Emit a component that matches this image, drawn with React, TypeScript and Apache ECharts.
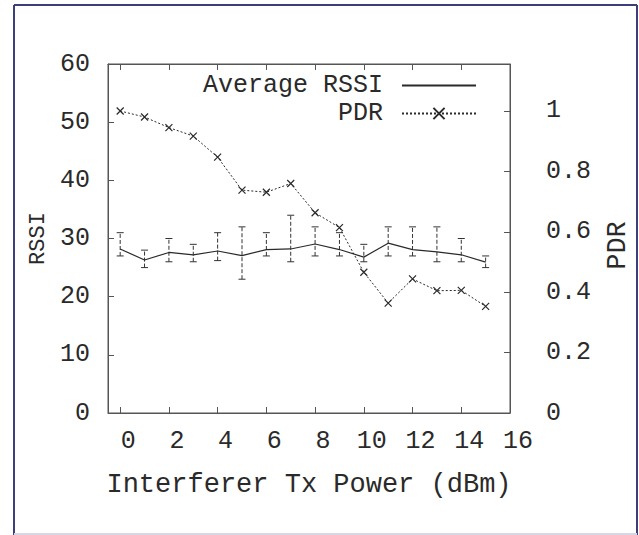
import React, { useEffect, useRef } from "react";
import * as echarts from "echarts";

const xValues = [0, 1, 2, 3, 4, 5, 6, 7, 8, 9, 10, 11, 12, 13, 14, 15];
const rssiMean = [28.2, 26.3, 27.6, 27.2, 27.85, 27.05, 28.1, 28.2, 29.05, 28.1, 26.8, 29.2, 28.1, 27.7, 27.2, 25.95];
const rssiLow = [27, 25, 26, 26, 26.2, 23, 27, 26, 27, 27, 26, 27, 27, 26, 26, 25];
const rssiHigh = [31, 28, 30, 29, 31, 32, 31, 34, 32, 31, 29, 32, 32, 32, 30, 27];
const pdrValues = [1.0, 0.98, 0.945, 0.917, 0.847, 0.738, 0.731, 0.76, 0.663, 0.614, 0.466, 0.364, 0.444, 0.405, 0.406, 0.353];
const xTicks = [0, 2, 4, 6, 8, 10, 12, 14, 16];
const pdrLabels: Record<string, string> = { "0": "0", "0.2": "0.2", "0.4": "0.4", "0.6": "0.6", "0.8": "0.8", "1": "1" };

const FONT = "'Liberation Mono', 'Courier New', monospace";
const INK = "#2a2a2a";
const AX = "#555555";

export default function App() {
  const ref = useRef<HTMLDivElement>(null);
  useEffect(() => {
    document.body.style.margin = "0";
    document.body.style.overflow = "hidden";
    const chart = echarts.init(ref.current!, undefined, { renderer: "svg" });
    const errData = xValues.map((x, i) => [x, rssiLow[i], rssiHigh[i]]);
    chart.setOption({
      animation: false,
      backgroundColor: "#ffffff",
      grid: { left: 108, top: 64, right: 128, bottom: 122, show: true, borderColor: AX, borderWidth: 1, backgroundColor: "transparent" },
      xAxis: [
        {
          type: "value", min: -0.5, max: 16, position: "bottom",
          name: "Interferer Tx Power (dBm)", nameLocation: "middle", nameGap: 58,
          nameTextStyle: { fontFamily: FONT, fontSize: 27, color: INK },
          axisLine: { show: true, onZero: false, lineStyle: { color: AX } },
          axisTick: { show: true, inside: true, length: 6, lineStyle: { color: AX }, customValues: xTicks },
          axisLabel: { show: true, customValues: xTicks, margin: 16, fontFamily: FONT, fontSize: 25, color: INK, padding: [0, 0, 0, 16] },
          splitLine: { show: false },
        },
        {
          type: "value", min: -0.5, max: 16, position: "top",
          axisLine: { show: true, onZero: false, lineStyle: { color: AX } },
          axisTick: { show: true, inside: true, length: 6, lineStyle: { color: AX }, customValues: xTicks },
          axisLabel: { show: false },
          splitLine: { show: false },
        },
      ],
      yAxis: [
        {
          type: "value", min: 0, max: 60, interval: 10, position: "left",
          name: "RSSI", nameLocation: "middle", nameGap: 59, nameRotate: 90,
          nameTextStyle: { fontFamily: FONT, fontSize: 22, color: INK },
          axisLine: { show: true, onZero: false, lineStyle: { color: AX } },
          axisTick: { show: true, inside: true, length: 6, lineStyle: { color: AX } },
          axisLabel: { margin: 18, fontFamily: FONT, fontSize: 25, color: INK },
          splitLine: { show: false },
        },
        {
          type: "value", min: 0, max: 1.1556, interval: 0.2, position: "right",
          name: "PDR", nameLocation: "middle", nameGap: 94, nameRotate: 90,
          nameTextStyle: { fontFamily: FONT, fontSize: 27, color: INK, padding: [0, 14, 0, 0] },
          axisLine: { show: true, onZero: false, lineStyle: { color: AX } },
          axisTick: { show: true, inside: true, length: 6, lineStyle: { color: AX } },
          axisLabel: {
            margin: 36, fontFamily: FONT, fontSize: 25, color: INK, showMaxLabel: false,
            formatter: (v: number) => pdrLabels[String(Math.round(v * 10) / 10)] ?? "",
          },
          splitLine: { show: false },
        },
      ],
      legend: [
        {
          data: ["Average RSSI"], right: 162, top: 73, align: "right", orient: "horizontal", padding: 0,
          itemWidth: 74, itemHeight: 14, selectedMode: false,
          itemStyle: { color: "transparent", borderWidth: 0 },
          textStyle: { fontFamily: FONT, fontSize: 25, lineHeight: 25, color: INK, padding: [0, 14, 0, 0] },
        },
        {
          data: ["PDR"], right: 162, top: 101, align: "right", orient: "horizontal", padding: 0,
          itemWidth: 74, itemHeight: 14, selectedMode: false,
          textStyle: { fontFamily: FONT, fontSize: 25, lineHeight: 25, color: INK, padding: [0, 14, 0, 0] },
        },
      ],
      graphic: [
        { type: "line", shape: { x1: 14, y1: 5, x2: 14, y2: 535 }, style: { stroke: "#3c3f7c", lineWidth: 2 }, silent: true },
        { type: "line", shape: { x1: 14, y1: 5, x2: 637, y2: 5 }, style: { stroke: "#3c3f7c", lineWidth: 2 }, silent: true },
        { type: "line", shape: { x1: 637, y1: 5, x2: 637, y2: 535 }, style: { stroke: "#3c3f7c", lineWidth: 2 }, silent: true },
        { type: "line", shape: { x1: 14, y1: 534, x2: 637, y2: 534 }, style: { stroke: "#d6d6e6", lineWidth: 2 }, silent: true },
      ],
      series: [
        {
          name: "RSSI error",
          type: "custom",
          xAxisIndex: 0, yAxisIndex: 0,
          data: errData,
          renderItem: (params: any, api: any) => {
            const x = api.value(0);
            const lo = api.coord([x, api.value(1)]);
            const hi = api.coord([x, api.value(2)]);
            const cw = 3.5;
            const st = { stroke: "#333", lineWidth: 1 };
            return {
              type: "group",
              children: [
                { type: "line", shape: { x1: lo[0], y1: lo[1], x2: hi[0], y2: hi[1] }, style: { ...st, lineDash: [4, 2] } },
                { type: "line", shape: { x1: lo[0] - cw, y1: lo[1], x2: lo[0] + cw, y2: lo[1] }, style: st },
                { type: "line", shape: { x1: hi[0] - cw, y1: hi[1], x2: hi[0] + cw, y2: hi[1] }, style: st },
              ],
            };
          },
          z: 2,
        },
        {
          name: "Average RSSI",
          type: "line",
          xAxisIndex: 0, yAxisIndex: 0,
          data: xValues.map((x, i) => [x, rssiMean[i]]),
          symbol: "none",
          lineStyle: { color: INK, width: 1.2, type: "solid" },
          itemStyle: { color: INK },
          z: 3,
        },
        {
          name: "PDR",
          type: "line",
          xAxisIndex: 0, yAxisIndex: 1,
          data: xValues.map((x, i) => [x, pdrValues[i]]),
          symbol: "path://M0 0L10 10M10 0L0 10",
          symbolSize: 7,
          showAllSymbol: true,
          lineStyle: { color: INK, width: 1, type: [2, 2] },
          itemStyle: { color: INK, borderColor: INK, borderWidth: 1.2 },
          z: 3,
        },
      ],
    });
    return () => chart.dispose();
  }, []);
  return <div ref={ref} style={{ width: 639, height: 535 }} />;
}
